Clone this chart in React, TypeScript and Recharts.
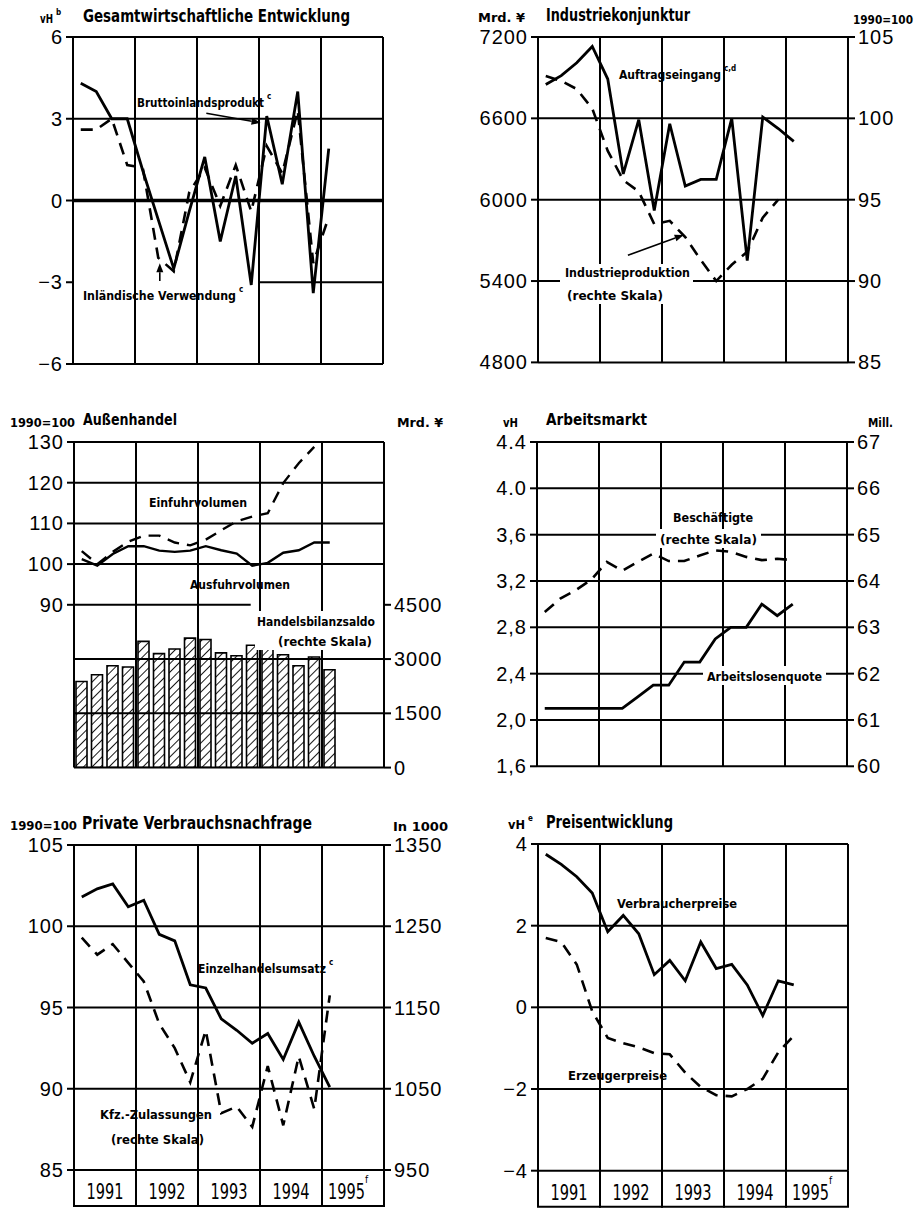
import React from 'react';
import { ComposedChart, Line, Bar, XAxis, YAxis, ReferenceLine } from 'recharts';

// quarters 1991 I .. 1995 I, drawn at the middle of each quarter
const quarters = [
  '1991 I', '1991 II', '1991 III', '1991 IV',
  '1992 I', '1992 II', '1992 III', '1992 IV',
  '1993 I', '1993 II', '1993 III', '1993 IV',
  '1994 I', '1994 II', '1994 III', '1994 IV',
  '1995 I',
];
const years = ['1991', '1992', '1993', '1994', '1995'];
const yearBounds = [0, 4, 8, 12, 16, 20];

// Gesamtwirtschaftliche Entwicklung, vH
const bip = [4.3, 4.0, 3.0, 3.0, 1.1, -0.7, -2.5, -0.4, 1.6, -1.5, 0.9, -3.1, 3.1, 0.6, 4.0, -3.4, 1.9];
const inlVerwendung = [2.6, 2.6, 3.0, 1.3, 1.2, -2.1, -2.6, 0.3, 1.2, -0.2, 1.3, -0.4, 2.0, 1.0, 3.3, -2.3, -0.6];
const gesamtTicks = [-6, -3, 0, 3, 6];

// Industriekonjunktur
const auftragseingang = [6850, 6915, 7010, 7130, 6890, 6190, 6590, 5920, 6560, 6100, 6150, 6150, 6600, 5550, 6610, 6525, 6430];
const industrieproduktion = [102.6, 102.3, 101.8, 100.6, 98.0, 96.2, 95.5, 93.5, 93.7, 92.7, 91.3, 90.0, 91.0, 91.8, 93.9, 95.0];
const auftragTicks = [4800, 5400, 6000, 6600, 7200];
const produktionTicks = [85, 90, 95, 100, 105];

// Außenhandel
const einfuhr = [103.2, 100.0, 103.0, 105.5, 107.0, 107.0, 105.3, 104.6, 106.0, 108.3, 110.5, 111.7, 112.5, 119.9, 124.8, 128.8];
const ausfuhr = [101.2, 99.6, 102.5, 104.4, 104.4, 103.3, 103.0, 103.3, 104.4, 103.4, 102.6, 99.6, 100.3, 102.8, 103.4, 105.3, 105.3];
const handelsbilanz = [2380, 2565, 2815, 2780, 3490, 3150, 3280, 3580, 3540, 3170, 3090, 3380, 3420, 3120, 2815, 3055, 2705];
const volumenTicks = [90, 100, 110, 120, 130];
const saldoTicks = [0, 1500, 3000, 4500];

// Arbeitsmarkt
const arbeitslosenquote = [2.1, 2.1, 2.1, 2.1, 2.1, 2.1, 2.2, 2.3, 2.3, 2.5, 2.5, 2.7, 2.8, 2.8, 3.0, 2.9, 3.0];
const beschaeftigte = [63.33, 63.62, 63.8, 64.03, 64.41, 64.22, 64.41, 64.59, 64.43, 64.43, 64.55, 64.66, 64.63, 64.52, 64.45, 64.48, 64.45];
const quoteTicks = [1.6, 2.0, 2.4, 2.8, 3.2, 3.6, 4.0, 4.4];
const quoteTickLabels = ['1,6', '2,0', '2,4', '2,8', '3,2', '3,6', '4.0', '4.4'];
const millTicks = [60, 61, 62, 63, 64, 65, 66, 67];

// Private Verbrauchsnachfrage
const einzelhandel = [101.8, 102.3, 102.6, 101.2, 101.6, 99.5, 99.1, 96.4, 96.2, 94.3, 93.6, 92.8, 93.4, 91.8, 94.1, 92.0, 90.1];
const kfzZulassungen = [1236, 1215, 1228, 1205, 1182, 1130, 1100, 1058, 1122, 1020, 1028, 1003, 1078, 1005, 1090, 1025, 1165];
const einzelTicks = [85, 90, 95, 100, 105];
const kfzTicks = [950, 1050, 1150, 1250, 1350];

// Preisentwicklung, vH
const verbraucherpreise = [3.75, 3.5, 3.2, 2.8, 1.85, 2.25, 1.8, 0.8, 1.15, 0.65, 1.6, 0.95, 1.05, 0.55, -0.2, 0.65, 0.55];
const erzeugerpreise = [1.7, 1.6, 1.05, -0.1, -0.75, -0.88, -0.98, -1.12, -1.15, -1.6, -1.95, -2.15, -2.18, -2.0, -1.75, -1.1, -0.7];
const preisTicks = [-4, -2, 0, 2, 4];

const rows = (series: Record<string, number[]>) =>
  quarters.map((q, i) => {
    const r: Record<string, any> = { q, x: i + 0.5 };
    for (const k in series) r[k] = series[k][i] ?? null;
    return r;
  });

const gesamtRows = rows({ bip, inl: inlVerwendung });
const industrieRows = rows({ auftrag: auftragseingang, prod: industrieproduktion });
const handelRows = rows({ ein: einfuhr, aus: ausfuhr, saldo: handelsbilanz });
const arbeitRows = rows({ quote: arbeitslosenquote, besch: beschaeftigte });
const konsumRows = rows({ einzel: einzelhandel, kfz: kfzZulassungen });
const preisRows = rows({ vp: verbraucherpreise, ep: erzeugerpreise });

// layout
const AXIS_W = 70;
const PAD = 12;
const PLOT_W = 310;
const YEAR_PX = PLOT_W / 5;
const BAND_H = 36;
const DASH = '12 8';
const NUM_FONT = "'Liberation Sans', Arial, sans-serif";
const LABEL_FONT = "'Liberation Sans Narrow', 'DejaVu Sans Condensed', 'Liberation Sans', sans-serif";

const tickText = { fill: '#000', fontSize: 20, fontFamily: NUM_FONT, letterSpacing: 1 };
const tickLine = { stroke: '#000', strokeWidth: 2 };
const minus = (v: number) => (v < 0 ? '\u2212' + Math.abs(v) : String(v));

function axis(id: 'left' | 'right', domain: number[], ticks: number[], fmt?: (v: number) => string) {
  return (
    <YAxis
      yAxisId={id}
      orientation={id}
      type="number"
      domain={domain}
      ticks={ticks}
      interval={0}
      width={AXIS_W}
      axisLine={false}
      tickLine={tickLine}
      tickSize={7}
      tickMargin={3}
      tick={tickText}
      tickFormatter={fmt}
      allowDataOverflow
    />
  );
}

const vGrid = () =>
  yearBounds.map((v) => (
    <ReferenceLine key={'vx' + v} x={v} yAxisId="left" stroke="#000" strokeWidth={2} ifOverflow="visible" />
  ));

const hGrid = (vals: number[], id = 'left') =>
  vals.map((v) => (
    <ReferenceLine key={'hy' + id + v} y={v} yAxisId={id} stroke="#000" strokeWidth={2} ifOverflow="visible" />
  ));

const arrowShape = (p: any) => {
  const { x1, y1, x2, y2 } = p;
  const a = Math.atan2(y2 - y1, x2 - x1);
  const L = 9;
  const W = 3.5;
  const bx = x2 - L * Math.cos(a);
  const by = y2 - L * Math.sin(a);
  const pts = `${x2},${y2} ${bx - W * Math.sin(a)},${by + W * Math.cos(a)} ${bx + W * Math.sin(a)},${by - W * Math.cos(a)}`;
  return (
    <g>
      <line x1={x1} y1={y1} x2={bx} y2={by} stroke="#000" strokeWidth={1.6} />
      <polygon points={pts} fill="#000" />
    </g>
  );
};

const YearTick = (props: any) => {
  const { x, y, payload } = props;
  const i = yearBounds.indexOf(payload.value);
  const label = i >= 0 && i < years.length;
  const cx = x + YEAR_PX / 2 - (i === 4 ? 5 : 0);
  return (
    <g>
      <line x1={x} y1={y} x2={x} y2={y + BAND_H} stroke="#000" strokeWidth={2} />
      {label && <line x1={x - 1} y1={y + BAND_H} x2={x + YEAR_PX + 1} y2={y + BAND_H} stroke="#000" strokeWidth={2} />}
      {label && (
        <text x={cx} y={y + 29} textAnchor="middle" fontSize={22} fontFamily={LABEL_FONT} fill="#000">
          <tspan textLength={37} lengthAdjust="spacingAndGlyphs">{years[i]}</tspan>
          {i === 4 && <tspan dy={-16} fontSize={10}>f</tspan>}
        </text>
      )}
    </g>
  );
};

const hiddenX = <XAxis type="number" dataKey="x" domain={[0, 20]} hide />;
const bandX = (
  <XAxis
    type="number"
    dataKey="x"
    domain={[0, 20]}
    ticks={yearBounds}
    interval={0}
    height={BAND_H}
    axisLine={false}
    tickLine={false}
    tickSize={0}
    tickMargin={0}
    tick={(p: any) => <YearTick {...p} />}
  />
);

function Panel(props: { x: number; y: number; h: number; band?: boolean; right?: boolean; data: any[]; children: React.ReactNode }) {
  const { x, y, h, band, right, data, children } = props;
  const height = h + PAD * 2 + (band ? BAND_H : 0);
  return (
    <div style={{ position: 'absolute', left: x - AXIS_W, top: y - PAD }}>
      <ComposedChart
        width={PLOT_W + 2 * AXIS_W}
        height={height}
        data={data}
        margin={{ top: PAD, bottom: PAD, left: 0, right: right ? 0 : AXIS_W }}
      >
        {children}
      </ComposedChart>
    </div>
  );
}

const lineProps = { type: 'linear' as const, stroke: '#000', dot: false, activeDot: false, isAnimationActive: false };

const masks = [
  { x: 560, y: 264, w: 133, h: 40 },
  { x: 255, y: 611, w: 122, h: 39 },
  { x: 656, y: 529, w: 105, h: 19 },
  { x: 703, y: 666, w: 123, h: 19 },
];

// sup: superscript footnote letter placed right after the text
const texts = [
  { t: 'vH', x: 40, y: 23, w: 13, s: 12, sup: 'b' },
  { t: 'Gesamtwirtschaftliche Entwicklung', x: 83, y: 22, w: 267, s: 17 },
  { t: 'Bruttoinlandsprodukt', x: 137, y: 107, w: 127, s: 13, sup: 'c' },
  { t: 'Inländische Verwendung', x: 83, y: 300, w: 153, s: 13, sup: 'c' },
  { t: 'Mrd. ¥', x: 478, y: 22, w: 47, s: 12 },
  { t: 'Industriekonjunktur', x: 546, y: 21, w: 144, s: 17 },
  { t: '1990=100', x: 853, y: 24, w: 60, s: 12 },
  { t: 'Auftragseingang', x: 619, y: 79, w: 102, s: 13, sup: 'c,d' },
  { t: 'Industrieproduktion', x: 565, y: 277, w: 125, s: 13 },
  { t: '(rechte Skala)', x: 567, y: 300, w: 96, s: 13 },
  { t: '1990=100', x: 10, y: 427, w: 65, s: 12 },
  { t: 'Außenhandel', x: 83, y: 425, w: 94, s: 16 },
  { t: 'Mrd. ¥', x: 397, y: 427, w: 46, s: 12 },
  { t: 'Einfuhrvolumen', x: 149, y: 507, w: 98, s: 13 },
  { t: 'Ausfuhrvolumen', x: 190, y: 589, w: 100, s: 13 },
  { t: 'Handelsbilanzsaldo', x: 257, y: 626, w: 118, s: 13 },
  { t: '(rechte Skala)', x: 278, y: 646, w: 94, s: 13 },
  { t: 'vH', x: 503, y: 427, w: 15, s: 12 },
  { t: 'Arbeitsmarkt', x: 546, y: 425, w: 101, s: 16 },
  { t: 'Mill.', x: 868, y: 427, w: 25, s: 12 },
  { t: 'Beschäftigte', x: 673, y: 522, w: 80, s: 13 },
  { t: '(rechte Skala)', x: 660, y: 544, w: 97, s: 13 },
  { t: 'Arbeitslosenquote', x: 707, y: 681, w: 115, s: 13 },
  { t: '1990=100', x: 10, y: 830, w: 67, s: 12 },
  { t: 'Private Verbrauchsnachfrage', x: 82, y: 829, w: 230, s: 17 },
  { t: 'In 1000', x: 393, y: 831, w: 55, s: 13 },
  { t: 'Einzelhandelsumsatz', x: 198, y: 973, w: 128, s: 13, sup: 'c' },
  { t: 'Kfz.-Zulassungen', x: 100, y: 1119, w: 112, s: 13 },
  { t: '(rechte Skala)', x: 111, y: 1144, w: 93, s: 13 },
  { t: 'vH', x: 508, y: 829, w: 17, s: 12, sup: 'e' },
  { t: 'Preisentwicklung', x: 546, y: 828, w: 127, s: 17 },
  { t: 'Verbraucherpreise', x: 617, y: 908, w: 120, s: 13 },
  { t: 'Erzeugerpreise', x: 568, y: 1080, w: 99, s: 13 },
];

export default function App() {
  return (
    <div style={{ position: 'absolute', left: 0, top: 0, width: 922, height: 1211, background: '#fff', overflow: 'hidden' }}>
      {/* Gesamtwirtschaftliche Entwicklung */}
      <Panel x={73} y={37} h={327} data={gesamtRows}>
        {hiddenX}
        {axis('left', [-6, 6], gesamtTicks, minus)}
        {vGrid()}
        {hGrid([6, 3, -6])}
        <ReferenceLine yAxisId="left" y={0} stroke="#000" strokeWidth={3.5} />
        <ReferenceLine yAxisId="left" segment={[{ x: 12, y: -3 }, { x: 20, y: -3 }]} stroke="#000" strokeWidth={2} />
        <ReferenceLine yAxisId="left" segment={[{ x: 8.6, y: 3.2 }, { x: 12.1, y: 2.85 }]} shape={arrowShape} />
        <ReferenceLine yAxisId="left" segment={[{ x: 5.6, y: -2.95 }, { x: 5.6, y: -2.3 }]} shape={arrowShape} />
        <Line {...lineProps} yAxisId="left" dataKey="inl" strokeWidth={2.6} strokeDasharray={DASH} />
        <Line {...lineProps} yAxisId="left" dataKey="bip" strokeWidth={2.8} />
      </Panel>

      {/* Industriekonjunktur */}
      <Panel x={537.5} y={37.3} h={325.4} data={industrieRows} right>
        {hiddenX}
        {axis('left', [4800, 7200], auftragTicks)}
        {axis('right', [85, 105], produktionTicks)}
        {vGrid()}
        {hGrid(auftragTicks)}
        <ReferenceLine yAxisId="left" segment={[{ x: 5.8, y: 5590 }, { x: 9.4, y: 5740 }]} shape={arrowShape} />
        <Line {...lineProps} yAxisId="right" dataKey="prod" strokeWidth={2.6} strokeDasharray={DASH} />
        <Line {...lineProps} yAxisId="left" dataKey="auftrag" strokeWidth={2.8} />
      </Panel>

      {/* Außenhandel */}
      <Panel x={74} y={441.7} h={325.6} data={handelRows} right>
        <defs>
          <pattern id="hatch" width="6" height="6" patternUnits="userSpaceOnUse" patternTransform="rotate(45)">
            <line x1="0" y1="0" x2="0" y2="6" stroke="#000" strokeWidth="1.8" />
          </pattern>
        </defs>
        {hiddenX}
        {axis('left', [50, 130], volumenTicks)}
        {axis('right', [0, 9000], saldoTicks)}
        {hGrid([130, 120, 110, 100])}
        {hGrid([3000, 1500, 0], 'right')}
        <ReferenceLine yAxisId="left" segment={[{ x: 0, y: 90 }, { x: 11.4, y: 90 }]} stroke="#000" strokeWidth={2} />
        <Bar yAxisId="right" dataKey="saldo" barSize={11} fill="url(#hatch)" stroke="#000" strokeWidth={1.6} isAnimationActive={false} />
        {vGrid()}
        <Line {...lineProps} yAxisId="left" dataKey="ein" strokeWidth={2.4} strokeDasharray={DASH} />
        <Line {...lineProps} yAxisId="left" dataKey="aus" strokeWidth={2.4} />
      </Panel>

      {/* Arbeitsmarkt */}
      <Panel x={537.3} y={441.7} h={324.3} data={arbeitRows} right>
        {hiddenX}
        {axis('left', [1.6, 4.4], quoteTicks, (v: number) => quoteTickLabels[quoteTicks.indexOf(v)] ?? String(v))}
        {axis('right', [60, 67], millTicks)}
        {vGrid()}
        {hGrid(quoteTicks)}
        <Line {...lineProps} yAxisId="right" dataKey="besch" strokeWidth={2.6} strokeDasharray={DASH} />
        <Line {...lineProps} yAxisId="left" dataKey="quote" strokeWidth={2.8} />
      </Panel>

      {/* Private Verbrauchsnachfrage */}
      <Panel x={74} y={845} h={325} data={konsumRows} band right>
        {bandX}
        {axis('left', [85, 105], einzelTicks)}
        {axis('right', [950, 1350], kfzTicks)}
        {vGrid()}
        {hGrid(einzelTicks)}
        <Line {...lineProps} yAxisId="right" dataKey="kfz" strokeWidth={2.6} strokeDasharray={DASH} />
        <Line {...lineProps} yAxisId="left" dataKey="einzel" strokeWidth={2.8} />
      </Panel>

      {/* Preisentwicklung */}
      <Panel x={538.3} y={844} h={326.7} data={preisRows} band>
        {bandX}
        {axis('left', [-4, 4], preisTicks, minus)}
        {vGrid()}
        {hGrid(preisTicks)}
        <Line {...lineProps} yAxisId="left" dataKey="ep" strokeWidth={2.6} strokeDasharray={DASH} />
        <Line {...lineProps} yAxisId="left" dataKey="vp" strokeWidth={2.8} />
      </Panel>

      <svg width={922} height={1211} style={{ position: 'absolute', left: 0, top: 0, pointerEvents: 'none' }}>
        {masks.map((m, i) => (
          <rect key={'m' + i} x={m.x} y={m.y} width={m.w} height={m.h} fill="#fff" />
        ))}
        {texts.map((l, i) => (
          <text key={'t' + i} x={l.x} y={l.y} fontSize={l.s} fontWeight="bold" fontFamily={LABEL_FONT} fill="#000">
            <tspan textLength={l.w} lengthAdjust="spacingAndGlyphs">{l.t}</tspan>
            {l.sup && (
              <tspan dx={3} dy={-l.s * 0.65} fontSize={8}>
                {l.sup}
              </tspan>
            )}
          </text>
        ))}
      </svg>
    </div>
  );
}
